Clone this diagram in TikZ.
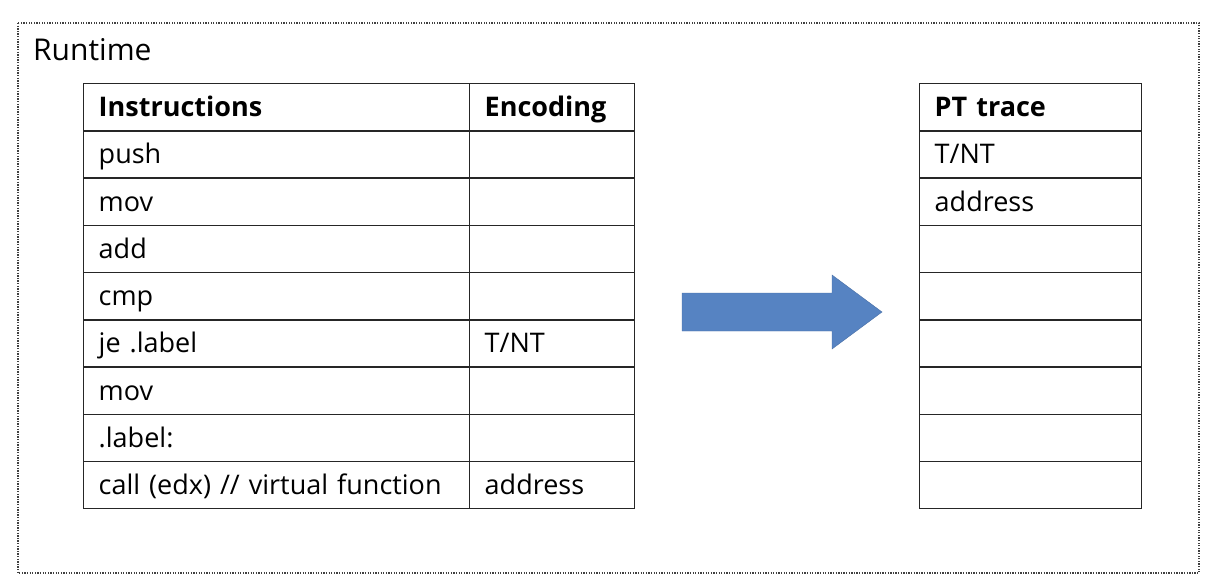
\documentclass[tikz,border=0pt]{standalone}
\usepackage{fontspec}
\setmainfont{Open Sans}
\begin{document}
\begin{tikzpicture}[x=1pt,y=-1pt,
  cell/.style={draw=black!85, line width=1.4pt, rectangle, anchor=north west,
    minimum height=47.2pt, inner xsep=15pt, inner ysep=0pt, align=left,
    text width=#1, text height=21pt, text depth=2.2pt,
    font=\fontsize{27}{31}\selectfont},
  frame/.style={draw=black!75, line width=1.5pt, dash pattern=on 1.3pt off 1.3pt},
  bigarrow/.style={fill=arrowblue, draw=arrowblue!85!black, line width=0.4pt}
]
\definecolor{arrowblue}{HTML}{5683C2}
\useasboundingbox (0,0) rectangle (1218,584);
% frame
\draw[frame] (18,23) rectangle (1199,573);
\node[anchor=base west, inner sep=0pt, font=\fontsize{30}{34}\selectfont] (rt) at (33,60.7) {Runtime};
% left table
\def\rh{47.22}
\foreach \t/\e [count=\i from 0] in {%
  {\textbf{Instructions}}/{\textbf{Encoding}},
  push/{}, mov/{}, add/{}, cmp/{},
  {je .label}/{T/NT}, mov/{}, {.label:}/{},
  {call (edx) // virtual function}/address} {
  \node[cell=356pt] (i\i) at (83,83+\i*\rh) {\t};
  \node[cell=135pt] (e\i) at (469,83+\i*\rh) {\e};
}
% right table
\foreach \t [count=\i from 0] in {{\textbf{PT trace}}, {T/NT}, address, {}, {}, {}, {}, {}, {}} {
  \node[cell=192pt] (p\i) at (919,83+\i*\rh) {\t};
}
% arrow
\draw[bigarrow] (682,293) -- (832,293) -- (832,275) -- (882,312) -- (832,349) -- (832,331) -- (682,331) -- cycle;
\end{tikzpicture}
\end{document}
